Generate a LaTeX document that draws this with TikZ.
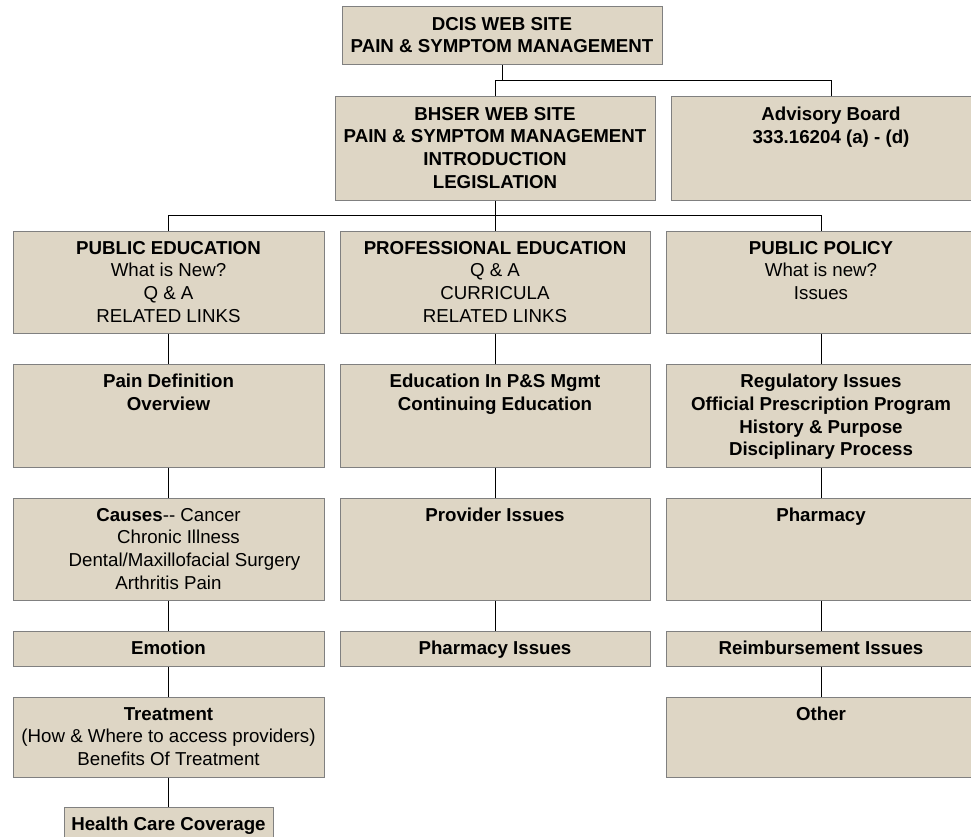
\documentclass[tikz,border=0pt]{standalone}
\usepackage{fontspec}
\setmainfont{Liberation Sans}
\definecolor{boxfill}{RGB}{222,214,197}
\definecolor{boxline}{RGB}{128,128,128}
\begin{document}
\begin{tikzpicture}[x=1pt,y=-1pt,
  box/.style={rectangle, draw=boxline, fill=boxfill, line width=1pt, inner sep=0pt},
  txt/.style={anchor=north, inner sep=0pt, align=center, text=black, font=\fontsize{18.7}{22.6}\selectfont},
  btxt/.style={txt, font=\fontsize{18.7}{22.6}\selectfont\bfseries},
  link/.style={draw=black, line width=1pt}]
\useasboundingbox (0,0) rectangle (971,837);
\clip (0,0) rectangle (971,837);

% boxes
\node[box, minimum width=320, minimum height=58] (dcis) at (502,36) {};
\node[box, minimum width=320, minimum height=103] (bhser) at (495,148.5) {};
\node[box, minimum width=320, minimum height=103] (adv) at (831,148.5) {};
\node[box, minimum width=311, minimum height=102] (pubed) at (168.5,282) {};
\node[box, minimum width=310, minimum height=102] (profed) at (495,282) {};
\node[box, minimum width=310, minimum height=102] (poled) at (821,282) {};
\node[box, minimum width=311, minimum height=103] (paindef) at (168.5,415.5) {};
\node[box, minimum width=310, minimum height=103] (eduin) at (495,415.5) {};
\node[box, minimum width=310, minimum height=103] (reg) at (821,415.5) {};
\node[box, minimum width=311, minimum height=102] (causes) at (168.5,549) {};
\node[box, minimum width=310, minimum height=102] (provider) at (495,549) {};
\node[box, minimum width=310, minimum height=102] (pharm) at (821,549) {};
\node[box, minimum width=311, minimum height=35] (emotion) at (168.5,648.5) {};
\node[box, minimum width=310, minimum height=35] (pharmiss) at (495,648.5) {};
\node[box, minimum width=310, minimum height=35] (reimb) at (821,648.5) {};
\node[box, minimum width=311, minimum height=80] (treat) at (168.5,737) {};
\node[box, minimum width=310, minimum height=80] (other) at (821,737) {};
\node[box, minimum width=209, minimum height=40] (hcc) at (168.5,827) {};

% texts
\node[btxt] (dcis-t) at ([yshift=-10.6pt]dcis.north) {DCIS WEB SITE\\PAIN \& SYMPTOM MANAGEMENT};
\node[btxt] (bhser-t) at ([yshift=-10.6pt]bhser.north) {BHSER WEB SITE\\PAIN \& SYMPTOM MANAGEMENT\\INTRODUCTION\\LEGISLATION};
\node[btxt] (adv-t) at ([yshift=-10.6pt]adv.north) {Advisory Board\\333.16204 (a) - (d)};
\node[txt] (pubed-t) at ([yshift=-10.6pt]pubed.north) {\textbf{PUBLIC EDUCATION}\\What is New?\\Q \& A\\RELATED LINKS};
\node[txt] (profed-t) at ([yshift=-10.6pt]profed.north) {\textbf{PROFESSIONAL EDUCATION}\\Q \& A\\CURRICULA\\RELATED LINKS};
\node[txt] (poled-t) at ([yshift=-10.6pt]poled.north) {\textbf{PUBLIC POLICY}\\What is new?\\Issues};
\node[btxt] (paindef-t) at ([yshift=-10.6pt]paindef.north) {Pain Definition\\Overview};
\node[btxt] (eduin-t) at ([yshift=-10.6pt]eduin.north) {Education In P\&S Mgmt\\Continuing Education};
\node[btxt] (reg-t) at ([yshift=-10.6pt]reg.north) {Regulatory Issues\\Official Prescription Program\\History \& Purpose\\Disciplinary Process};
\node[txt] (causes-t) at ([yshift=-10.6pt]causes.north) {\textbf{Causes}-{}- Cancer\\\hspace*{20pt}Chronic Illness\\\hspace*{32pt}Dental/Maxillofacial Surgery\\Arthritis Pain};
\node[btxt] (provider-t) at ([yshift=-10.6pt]provider.north) {Provider Issues};
\node[btxt] (pharm-t) at ([yshift=-10.6pt]pharm.north) {Pharmacy};
\node[btxt] (emotion-t) at ([yshift=-10.6pt]emotion.north) {Emotion};
\node[btxt] (pharmiss-t) at ([yshift=-10.6pt]pharmiss.north) {Pharmacy Issues};
\node[btxt] (reimb-t) at ([yshift=-10.6pt]reimb.north) {Reimbursement Issues};
\node[txt] (treat-t) at ([yshift=-10.6pt]treat.north) {\textbf{Treatment}\\(How \& Where to access providers)\\Benefits Of Treatment};
\node[btxt] (other-t) at ([yshift=-10.6pt]other.north) {Other};
\node[btxt] (hcc-t) at ([yshift=-10.6pt]hcc.north) {Health Care Coverage};

% connectors
\coordinate (j1) at (502,81);
\draw[link] (dcis.south) -- (j1);
\draw[link] (bhser.north) |- (j1);
\draw[link] (adv.north) |- (j1);
\coordinate (j2) at (495,215);
\draw[link] (bhser.south) -- (j2);
\draw[link] (pubed.north) |- (j2);
\draw[link] (profed.north) -- (j2);
\draw[link] (poled.north) |- (j2);

\draw[link] (pubed.south) -- (paindef.north);
\draw[link] (paindef.south) -- (causes.north);
\draw[link] (causes.south) -- (emotion.north);
\draw[link] (emotion.south) -- (treat.north);
\draw[link] (treat.south) -- (hcc.north);

\draw[link] (profed.south) -- (eduin.north);
\draw[link] (eduin.south) -- (provider.north);
\draw[link] (provider.south) -- (pharmiss.north);

\draw[link] (poled.south) -- (reg.north);
\draw[link] (reg.south) -- (pharm.north);
\draw[link] (pharm.south) -- (reimb.north);
\draw[link] (reimb.south) -- (other.north);
\end{tikzpicture}
\end{document}
